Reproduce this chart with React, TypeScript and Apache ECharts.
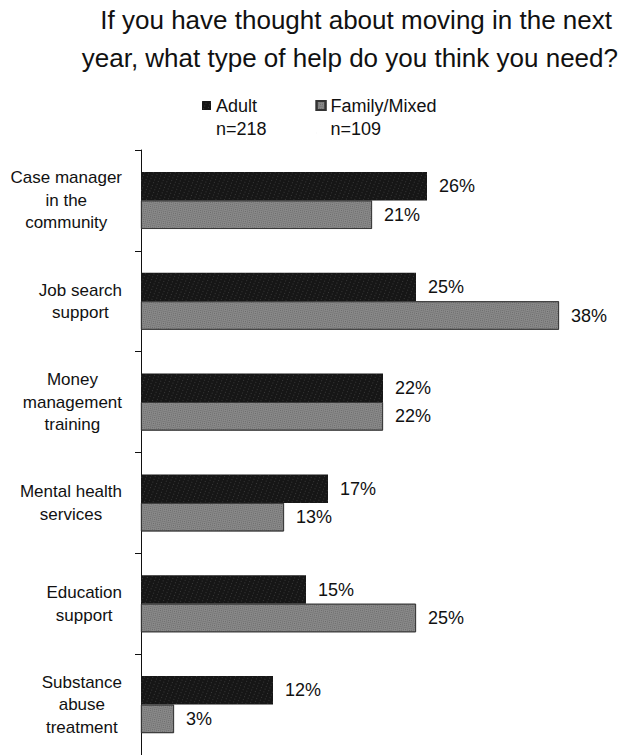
import React, { useEffect, useRef } from "react";
import * as echarts from "echarts";

const categories = [
  "Case manager\nin the\ncommunity",
  "Job search\nsupport",
  "Money\nmanagement\ntraining",
  "Mental health\nservices",
  "Education\nsupport",
  "Substance\nabuse\ntreatment",
];
const adultValues = [26, 25, 22, 17, 15, 12];
const familyValues = [21, 38, 22, 13, 25, 3];
const seriesNames = ["Adult", "Family/Mixed"];
const sampleSizes = ["n=218", "n=109"];
const titleLines = [
  "If you have thought about moving in the next",
  "year, what type of help do you think you need?",
];

const FONT = "'Liberation Sans', Arial, sans-serif";

// Legend marker: a 9px square sitting at the top of a taller box, so the
// square lines up with the first line of the two-line legend label.
const LEGEND_ICON = "path://M0,0L9,0L9,9L0,9Z M0,32L0.01,32L0,32Z";

export default function App() {
  const ref = useRef<HTMLDivElement>(null);

  useEffect(() => {
    document.body.style.margin = "0";
    if (!ref.current) return;
    const chart = echarts.init(ref.current, null, { renderer: "svg" });

    const valueLabel = {
      show: true,
      position: "right",
      distance: 12,
      formatter: "{c}%",
      fontFamily: FONT,
      fontSize: 18,
      color: "#111",
    };

    const titleStyle = {
      fontFamily: FONT,
      fontSize: 26,
      fontWeight: "normal",
      color: "#111",
    };

    chart.setOption({
      animation: false,
      backgroundColor: "#fff",
      aria: { enabled: true, decal: { show: true } },
      title: [
        { text: titleLines[0], right: 15, top: 7, padding: 0, textStyle: titleStyle },
        { text: titleLines[1], right: 9, top: 45, padding: 0, textStyle: titleStyle },
      ],
      legend: {
        left: 202,
        top: 94,
        padding: 0,
        itemWidth: 9,
        itemHeight: 32,
        itemGap: 49,
        icon: LEGEND_ICON,
        formatter: (name: string) => {
          const i = seriesNames.indexOf(name);
          return `${name}\n${sampleSizes[i]}`;
        },
        textStyle: {
          fontFamily: FONT,
          fontSize: 18,
          color: "#111",
          lineHeight: 23,
        },
      },
      grid: { left: 141, right: 24, top: 150, bottom: -3, containLabel: false },
      xAxis: {
        type: "value",
        min: 0,
        max: 42,
        show: false,
      },
      yAxis: {
        type: "category",
        data: categories,
        inverse: true,
        axisLine: { show: true, lineStyle: { color: "#111", width: 1 } },
        axisTick: { show: true, length: 6, lineStyle: { color: "#111" } },
        axisLabel: {
          margin: 19,
          align: "right",
          fontFamily: FONT,
          fontSize: 17,
          color: "#111",
          formatter: (v: string) =>
            v
              .split("\n")
              .map((l) => `{c|${l}}`)
              .join("\n"),
          rich: {
            c: {
              align: "center",
              fontFamily: FONT,
              fontSize: 17,
              lineHeight: 22.5,
              color: "#111",
            },
          },
        },
        splitLine: { show: false },
      },
      series: [
        {
          name: seriesNames[0],
          type: "bar",
          data: adultValues,
          barWidth: 28.5,
          barGap: "0%",
          itemStyle: {
            color: "#161616",
            decal: {
              symbol: "rect",
              symbolSize: 1,
              color: "rgba(120,120,120,0.35)",
              dashArrayX: [1, 3],
              dashArrayY: [1, 2],
              rotation: 0.4,
            },
          },
          label: valueLabel,
        },
        {
          name: seriesNames[1],
          type: "bar",
          data: familyValues,
          barWidth: 28.5,
          barGap: "0%",
          itemStyle: {
            color: "#8a8a8a",
            borderColor: "#333",
            borderWidth: 0.8,
            decal: {
              symbol: "rect",
              symbolSize: 1,
              color: "rgba(40,40,40,0.35)",
              dashArrayX: [1, 1],
              dashArrayY: [1, 1],
              rotation: 0.2,
            },
          },
          label: valueLabel,
        },
      ],
    });

    return () => chart.dispose();
  }, []);

  return <div ref={ref} style={{ width: 627, height: 755 }} />;
}
